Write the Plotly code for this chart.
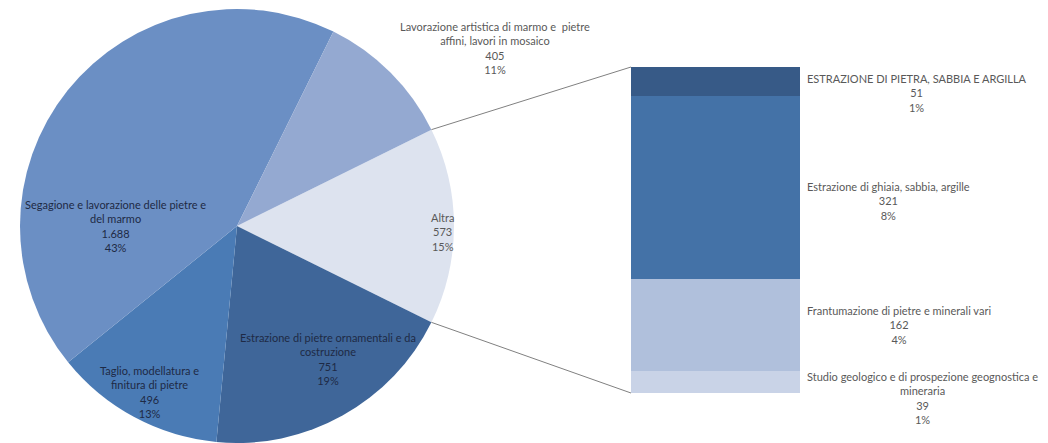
import plotly.graph_objects as go

# ---------------- data ----------------
pie_labels = [
    "Altra",
    "Estrazione di pietre ornamentali e da costruzione",
    "Taglio, modellatura e finitura di pietre",
    "Segagione e lavorazione delle pietre e del marmo",
    "Lavorazione artistica di marmo e  pietre affini, lavori in mosaico",
]
pie_values = [573, 751, 496, 1688, 405]
pie_value_text = ["573", "751", "496", "1.688", "405"]
pie_pct_text = ["15%", "19%", "13%", "43%", "11%"]
pie_label_lines = [
    ["Altra"],
    ["Estrazione di pietre ornamentali e da", "costruzione"],
    ["Taglio, modellatura e", "finitura di pietre"],
    ["Segagione e lavorazione delle pietre e", "del marmo"],
    ["Lavorazione artistica di marmo e  pietre", "affini, lavori in mosaico"],
]

bar_labels = [
    "Studio geologico e di prospezione geognostica e mineraria",
    "Frantumazione di pietre e minerali vari",
    "Estrazione di ghiaia, sabbia, argille",
    "ESTRAZIONE DI PIETRA, SABBIA E ARGILLA",
]
bar_values = [39, 162, 321, 51]
bar_pct_text = ["1%", "4%", "8%", "1%"]
bar_label_lines = [
    ["Studio geologico e di prospezione geognostica e", "mineraria"],
    ["Frantumazione di pietre e minerali vari"],
    ["Estrazione di ghiaia, sabbia, argille"],
    ["ESTRAZIONE DI PIETRA, SABBIA E ARGILLA"],
]

# ---------------- styles / layout ----------------
W, H = 1048, 443
pie_colors = ["#dde3ef", "#3f6699", "#4a7bb5", "#6b8fc4", "#94a9d1"]
bar_colors = ["#c9d3e7", "#b0c0dc", "#4472a7", "#375a87"]
pie_text_colors = ["#595959", "#1e2a45", "#1e2a45", "#1e2a45", "#595959"]
# label block centres (pixels)
pie_label_pos = [(442, 232), (328, 359), (149, 392), (115, 226), (495, 48)]
bar_label_x = 805
bar_label_y = [398, 325, 201, 93]
FONT = "Lato"

pie_cx, pie_cy, pie_r = 237, 226, 217
bar_left, bar_right, bar_top, bar_bottom = 631, 800, 67, 393

total = sum(pie_values)
altra_deg = 360.0 * pie_values[0] / total
rotation = 90 - altra_deg / 2

fig = go.Figure()
fig.add_trace(go.Pie(
    labels=pie_labels, values=pie_values, sort=False, direction="clockwise",
    rotation=rotation, marker=dict(colors=pie_colors, line=dict(width=0)),
    textinfo="none", hoverinfo="label+value", showlegend=False,
    domain=dict(x=[(pie_cx - pie_r) / W, (pie_cx + pie_r) / W],
                y=[(H - pie_cy - pie_r) / H, (H - pie_cy + pie_r) / H]),
))

base = 0
for lab, v, c in zip(bar_labels, bar_values, bar_colors):
    fig.add_trace(go.Bar(x=[0], y=[v], name=lab, marker=dict(color=c, line=dict(width=0)),
                         width=1, showlegend=False, hoverinfo="name+y"))

annotations = []
for lines, vt, pt, pos, col in zip(pie_label_lines, pie_value_text, pie_pct_text,
                                   pie_label_pos, pie_text_colors):
    annotations.append(dict(
        x=pos[0] / W, y=1 - pos[1] / H, xref="paper", yref="paper",
        text="<br>".join(lines + [vt, pt]), showarrow=False, align="center",
        xanchor="center", yanchor="middle", font=dict(family=FONT, size=11, color=col)))
for lines, v, pt, y in zip(bar_label_lines, bar_values, bar_pct_text, bar_label_y):
    annotations.append(dict(
        x=bar_label_x / W, y=1 - y / H, xref="paper", yref="paper",
        text="<br>".join(lines + [str(v), pt]), showarrow=False, align="center",
        xanchor="left", yanchor="middle", font=dict(family=FONT, size=11, color="#595959")))

# connector lines from the "Altra" slice edges to the bar corners
import math
shapes = []
a_start = math.radians(rotation)
a_end = math.radians(rotation + altra_deg)
for ang, by in ((a_start, bar_top), (a_end, bar_bottom)):
    px = pie_cx + pie_r * math.sin(ang)
    py = pie_cy - pie_r * math.cos(ang)
    shapes.append(dict(type="line", xref="paper", yref="paper",
                       x0=px / W, y0=1 - py / H, x1=bar_left / W, y1=1 - by / H,
                       line=dict(color="#808080", width=1)))

fig.update_layout(
    width=W, height=H, margin=dict(l=0, r=0, t=0, b=0),
    paper_bgcolor="white", plot_bgcolor="white",
    barmode="stack", bargap=0,
    xaxis=dict(domain=[bar_left / W, bar_right / W], range=[-0.5, 0.5], visible=False, fixedrange=True),
    yaxis=dict(domain=[1 - bar_bottom / H, 1 - bar_top / H], range=[0, sum(bar_values)],
               visible=False, fixedrange=True),
    annotations=annotations, shapes=shapes,
)
fig.write_html("out.html")
